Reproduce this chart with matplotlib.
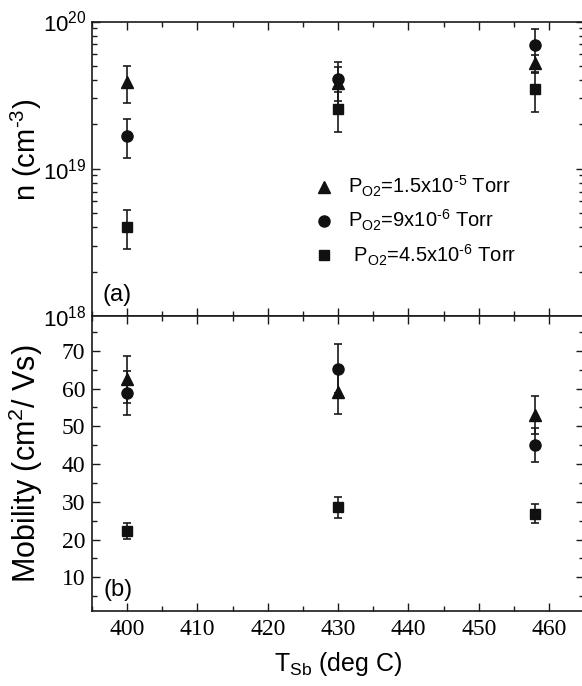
import matplotlib
matplotlib.use("Agg")
import matplotlib.pyplot as plt
from matplotlib.ticker import MultipleLocator, LogLocator, NullFormatter, FixedLocator
import numpy as np

plt.rcParams['mathtext.fontset'] = 'custom'
plt.rcParams['mathtext.rm'] = 'Liberation Sans'
plt.rcParams['mathtext.it'] = 'Liberation Sans:italic'
plt.rcParams['mathtext.bf'] = 'Liberation Sans:bold'
plt.rcParams['font.family'] = ['Liberation Sans', 'DejaVu Sans']

# ---- data ----
T = [400, 430, 458]
labels = [r'P$_{\mathregular{O2}}$=1.5x10$^{\text{-5}}$ Torr',
          r'P$_{\mathregular{O2}}$=9x10$^{\text{-6}}$ Torr',
          r' P$_{\mathregular{O2}}$=4.5x10$^{\text{-6}}$ Torr']
markers = ['^', 'o', 's']
msizes = [9, 8, 7]

n_tri = [3.9e19, 3.8e19, 5.2e19]
n_tri_err = [1.1e19, 1.1e19, 0.75e19]
n_cir = [1.68e19, 4.1e19, 6.9e19]
n_cir_err = [0.5e19, 1.2e19, 2.0e19]
n_sq = [4.05e18, 2.55e19, 3.47e19]
n_sq_err = [1.2e18, 0.76e19, 1.05e19]

mu_tri = [62.4, 59.1, 52.9]
mu_tri_err = [6.2, 5.9, 5.0]
mu_cir = [58.9, 65.2, 45.0]
mu_cir_err = [5.8, 6.5, 4.5]
mu_sq = [22.3, 28.6, 26.9]
mu_sq_err = [2.2, 2.8, 2.6]

x_ticks = [400, 410, 420, 430, 440, 450, 460]
mu_ticks = [10, 20, 30, 40, 50, 60, 70]

fig = plt.figure(figsize=(5.82, 6.86), dpi=100)
W, H = 582, 686
left = 92 / W
right = 584.3 / W
top = 1 - 21.5 / H
mid = 1 - 316 / H
bot = 1 - 611 / H
ax1 = fig.add_axes([left, mid, right - left, top - mid])
ax2 = fig.add_axes([left, bot, right - left, mid - bot], sharex=ax1)

n_series = [(n_tri, n_tri_err), (n_cir, n_cir_err), (n_sq, n_sq_err)]
mu_series = [(mu_tri, mu_tri_err), (mu_cir, mu_cir_err), (mu_sq, mu_sq_err)]

for ax, series in ((ax1, n_series), (ax2, mu_series)):
    for (vals, errs), m, ms, lab in zip(series, markers, msizes, labels):
        ax.errorbar(T, vals, yerr=errs, fmt='none', ecolor='#1a1a1a',
                    elinewidth=1.2, capsize=3.2, capthick=1.2, zorder=2)
        ax.plot(T, vals, ls='none', marker=m, ms=ms, color='#111111',
                label=lab, zorder=3)

ax1.set_yscale('log')
ax1.set_ylim(1e18, 1e20)
ax1.yaxis.set_major_locator(FixedLocator([1e18, 1e19, 1e20]))
ax1.yaxis.set_minor_locator(LogLocator(base=10, subs=np.arange(2, 10)))
ax1.yaxis.set_minor_formatter(NullFormatter())
ax1.set_yticklabels([r'$\mathregular{10^{18}}$', r'$\mathregular{10^{19}}$', r'$\mathregular{10^{20}}$'])

ax2.set_xlim(395, 465)
ax2.set_ylim(1.1, 79.2)
ax2.xaxis.set_major_locator(FixedLocator(x_ticks))
ax2.xaxis.set_minor_locator(MultipleLocator(5))
ax2.yaxis.set_major_locator(FixedLocator(mu_ticks))
ax2.yaxis.set_minor_locator(MultipleLocator(5))

for ax in (ax1, ax2):
    for s in ax.spines.values():
        s.set_linewidth(1.2)
        s.set_color('#1a1a1a')
    ax.tick_params(which='both', direction='in', top=True, right=True,
                   color='#1a1a1a', width=1.0)
    ax.tick_params(which='major', length=6)
    ax.tick_params(which='minor', length=3.5)

ax1.tick_params(axis='x', labelbottom=False)
ax1.tick_params(axis='y', labelsize=16, pad=4)
for t in ax2.get_xticklabels() + ax2.get_yticklabels():
    t.set_fontfamily('Liberation Serif')
    t.set_fontsize(17)
ax2.tick_params(axis='x', pad=6)
ax2.tick_params(axis='y', pad=5)

ax1.set_ylabel(r'n (cm$^{\text{-3}}$)', fontsize=21)
ax2.set_ylabel(r'Mobility (cm$^{\mathregular{2}}$/ Vs)', fontsize=22)
ax2.set_xlabel(r'T$_{\mathregular{Sb}}$ (deg C)', fontsize=18, labelpad=7)
ax1.yaxis.set_label_coords(-0.097, 0.565)
ax2.yaxis.set_label_coords(-0.096, 0.5)

ax1.text(0.022, 0.05, '(a)', transform=ax1.transAxes, fontsize=17)
ax2.text(0.024, 0.05, '(b)', transform=ax2.transAxes, fontsize=17)

leg = ax1.legend(loc='upper left', bbox_to_anchor=(0.43, 0.51), frameon=False,
                 fontsize=14.5, handletextpad=0.6, labelspacing=0.45,
                 handlelength=1.2, borderaxespad=0)

fig.savefig('out.png', dpi=100)
